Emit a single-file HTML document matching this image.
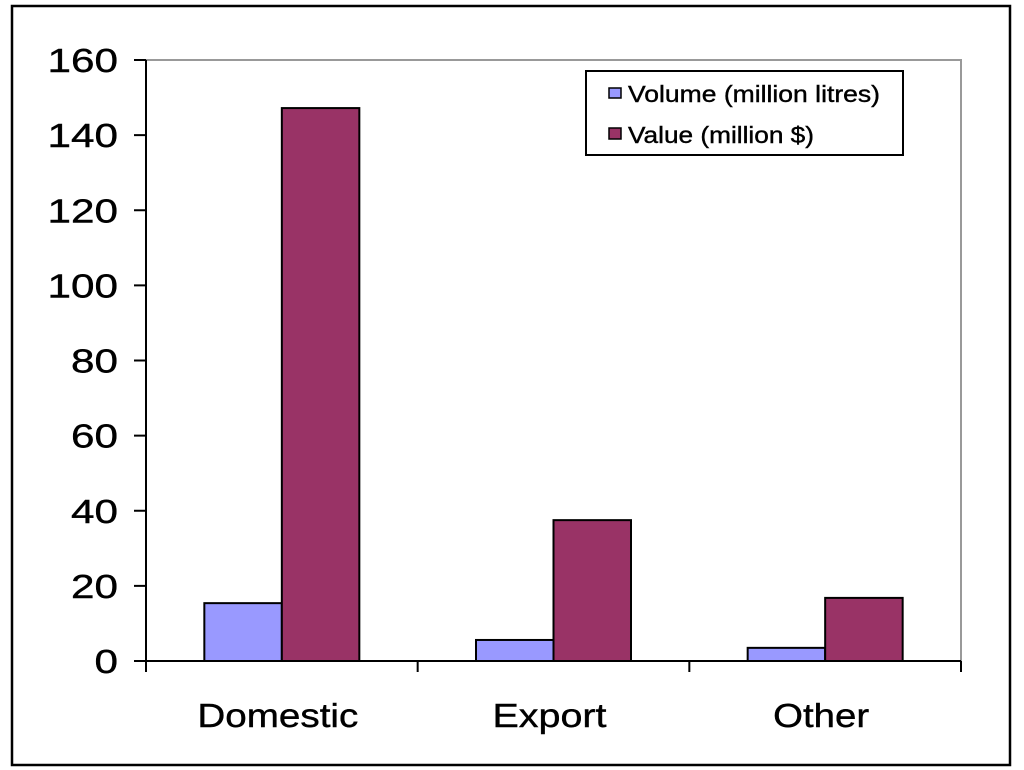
<!DOCTYPE html>
<html><head><meta charset="utf-8"><style>
body{margin:0;background:#fff;}
svg{display:block;font-family:"Liberation Sans",Arial,sans-serif;}
text{stroke:#000;stroke-width:0.4;}
</style></head><body>
<svg id="c" width="1024" height="770">
<rect x="12" y="6" width="998" height="759" fill="#fff" stroke="#000" stroke-width="2.5"/>
<rect x="146" y="60" width="815" height="601" fill="none" stroke="#999" stroke-width="2"/>
<g id="bars"></g>
<g id="axes"></g>
<g>
<rect x="586" y="71" width="317" height="84" fill="#fff" stroke="#000" stroke-width="2"/>
<rect x="609" y="88" width="12" height="10" fill="#9999ff" stroke="#000" stroke-width="1.5"/>
<text x="628" y="102" font-size="23" textLength="252" lengthAdjust="spacingAndGlyphs">Volume (million litres)</text>
<rect x="609" y="128" width="12" height="11" fill="#993366" stroke="#000" stroke-width="1.5"/>
<text x="628" y="143" font-size="23" textLength="186" lengthAdjust="spacingAndGlyphs">Value (million $)</text>
</g>
</svg>
<script>
const categories=["Domestic","Export","Other"];
const volume=[15.4,5.6,3.5];
const value=[147.2,37.5,16.8];
const yTicks=[0,20,40,60,80,100,120,140,160];
const NS="http://www.w3.org/2000/svg";
const x0=146,x1=961,y0=661,y1=60,yMax=160;
const y=v=>y0-(v/yMax)*(y0-y1);
const bw=(x1-x0)/categories.length;
const barW=77.5;
const labelW={"Domestic":161,"Export":114,"Other":96};
const bars=document.getElementById('bars'),axes=document.getElementById('axes');
function mk(tag,attrs,parent){const e=document.createElementNS(NS,tag);for(const k in attrs)e.setAttribute(k,attrs[k]);parent.appendChild(e);return e;}
categories.forEach((c,i)=>{
  const cx=x0+bw*(i+0.5);
  const r1=mk('rect',{x:cx-barW,y:y(volume[i]),width:barW,height:y0-y(volume[i]),fill:'#9999ff',stroke:'#000','stroke-width':2},bars);
  
  
  const r2=mk('rect',{x:cx,y:y(value[i]),width:barW,height:y0-y(value[i]),fill:'#993366',stroke:'#000','stroke-width':2},bars);
  
  
  const t=mk('text',{x:cx-4,y:727,'font-size':33,'text-anchor':'middle',textLength:labelW[c]||c.length*20,lengthAdjust:'spacingAndGlyphs'},axes);
  t.textContent=c;
  
  
});
mk('line',{x1:x0,y1:y1,x2:x0,y2:672,stroke:'#000','stroke-width':2},axes);
mk('line',{x1:x0,y1:y0,x2:x1,y2:y0,stroke:'#000','stroke-width':2},axes);
for(let i=1;i<=categories.length;i++){mk('line',{x1:x0+bw*i,y1:y0,x2:x0+bw*i,y2:672,stroke:'#000','stroke-width':2},axes);}
yTicks.forEach(v=>{
  mk('line',{x1:134,y1:y(v),x2:x0,y2:y(v),stroke:'#000','stroke-width':2},axes);
  const s=String(v);
  const t=mk('text',{x:118,y:y(v)+12,'font-size':33,'text-anchor':'end',textLength:s.length*23.5,lengthAdjust:'spacingAndGlyphs'},axes);
  t.textContent=s;
  
  
});
</script>
</body></html>
